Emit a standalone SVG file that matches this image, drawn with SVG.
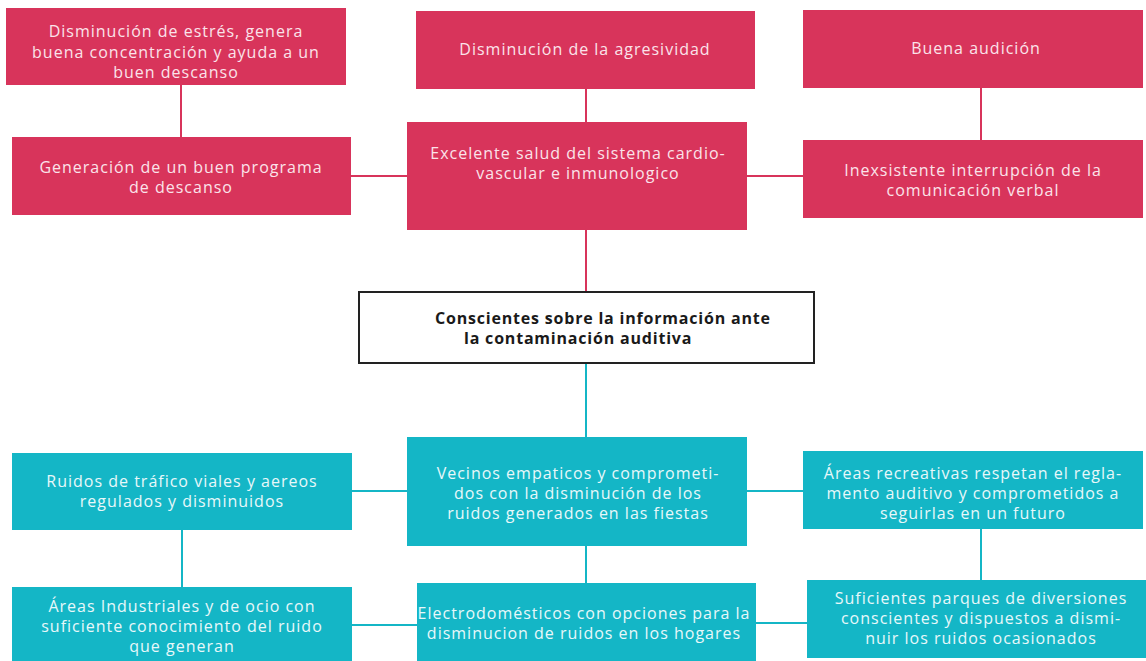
<svg xmlns="http://www.w3.org/2000/svg" width="1146" height="661" viewBox="0 0 1146 661">
<style>
.r{fill:#d8345b}
.t{fill:#14b6c6}
.lr{stroke:#d8345b;stroke-width:2;fill:none}
.lt{stroke:#14b6c6;stroke-width:2;fill:none}
text{font-family:"Open Sans","Liberation Sans",sans-serif;font-size:16px;letter-spacing:1px;text-anchor:middle;dominant-baseline:central}
.wr{fill:#fbe3ea}
.wt{fill:#e8f8fa}
.b{font-weight:bold;fill:#1a1a1a;text-anchor:start;font-size:16px;letter-spacing:0.8px}
</style>
<rect width="1146" height="661" fill="#ffffff"/>
<g id="connectors">
<line class="lr" x1="181" y1="85" x2="181" y2="137"/>
<line class="lr" x1="586" y1="89" x2="586" y2="122"/>
<line class="lr" x1="981" y1="88" x2="981" y2="140"/>
<line class="lr" x1="351" y1="176" x2="407" y2="176"/>
<line class="lr" x1="747" y1="176" x2="803" y2="176"/>
<line class="lr" x1="586" y1="230" x2="586" y2="291"/>
<line class="lt" x1="586" y1="364" x2="586" y2="437"/>
<line class="lt" x1="352" y1="491" x2="407" y2="491"/>
<line class="lt" x1="747" y1="491" x2="803" y2="491"/>
<line class="lt" x1="182" y1="530" x2="182" y2="587"/>
<line class="lt" x1="586" y1="546" x2="586" y2="583"/>
<line class="lt" x1="981" y1="529" x2="981" y2="580"/>
<line class="lt" x1="352" y1="625" x2="417" y2="625"/>
<line class="lt" x1="756" y1="623" x2="807" y2="623"/>
</g>
<g id="n1"><rect class="r" x="6" y="8" width="340" height="77"/>
<text class="wr" x="176" y="31">Disminución de estrés, genera</text>
<text class="wr" x="176" y="52">buena concentración y ayuda a un</text>
<text class="wr" x="176" y="72">buen descanso</text></g>
<g id="n2"><rect class="r" x="12" y="137" width="339" height="78"/>
<text class="wr" x="181" y="167">Generación de un buen programa</text>
<text class="wr" x="181" y="187">de descanso</text></g>
<g id="n3"><rect class="r" x="416" y="11" width="339" height="78"/>
<text class="wr" x="585" y="49">Disminución de la agresividad</text></g>
<g id="n4"><rect class="r" x="407" y="122" width="340" height="108"/>
<text class="wr" x="578" y="153">Excelente salud del sistema cardio-</text>
<text class="wr" x="578" y="173">vascular e inmunologico</text></g>
<g id="n5"><rect class="r" x="803" y="10" width="340" height="78"/>
<text class="wr" x="976" y="48">Buena audición</text></g>
<g id="n6"><rect class="r" x="803" y="140" width="340" height="78"/>
<text class="wr" x="973" y="170">Inexsistente interrupción de la</text>
<text class="wr" x="973" y="190">comunicación verbal</text></g>
<g id="center"><rect x="359" y="292" width="455" height="71" fill="#ffffff" stroke="#222222" stroke-width="2"/>
<text class="b" x="435" y="318">Conscientes sobre la información ante</text>
<text class="b" x="464" y="338">la contaminación auditiva</text></g>
<g id="n7"><rect class="t" x="12" y="453" width="340" height="77"/>
<text class="wt" x="182" y="481">Ruidos de tráfico viales y aereos</text>
<text class="wt" x="182" y="501">regulados y disminuidos</text></g>
<g id="n8"><rect class="t" x="12" y="587" width="340" height="78"/>
<text class="wt" x="182" y="606">Áreas Industriales y de ocio con</text>
<text class="wt" x="182" y="626">suficiente conocimiento del ruido</text>
<text class="wt" x="182" y="646">que generan</text></g>
<g id="n9"><rect class="t" x="407" y="437" width="340" height="109"/>
<text class="wt" x="578" y="473">Vecinos empaticos y comprometi-</text>
<text class="wt" x="578" y="493">dos con la disminución de los</text>
<text class="wt" x="578" y="513">ruidos generados en las fiestas</text></g>
<g id="n10"><rect class="t" x="417" y="583" width="339" height="82"/>
<text class="wt" x="584" y="613">Electrodomésticos con opciones para la</text>
<text class="wt" x="584" y="633">disminucion de ruidos en los hogares</text></g>
<g id="n11"><rect class="t" x="803" y="451" width="340" height="78"/>
<text class="wt" x="973" y="473">Áreas recreativas respetan el regla-</text>
<text class="wt" x="973" y="493">mento auditivo y comprometidos a</text>
<text class="wt" x="973" y="513">seguirlas en un futuro</text></g>
<g id="n12"><rect class="t" x="807" y="580" width="339" height="78"/>
<text class="wt" x="981" y="598">Suficientes parques de diversiones</text>
<text class="wt" x="981" y="618">conscientes y dispuestos a dismi-</text>
<text class="wt" x="981" y="638">nuir los ruidos ocasionados</text></g>
</svg>
